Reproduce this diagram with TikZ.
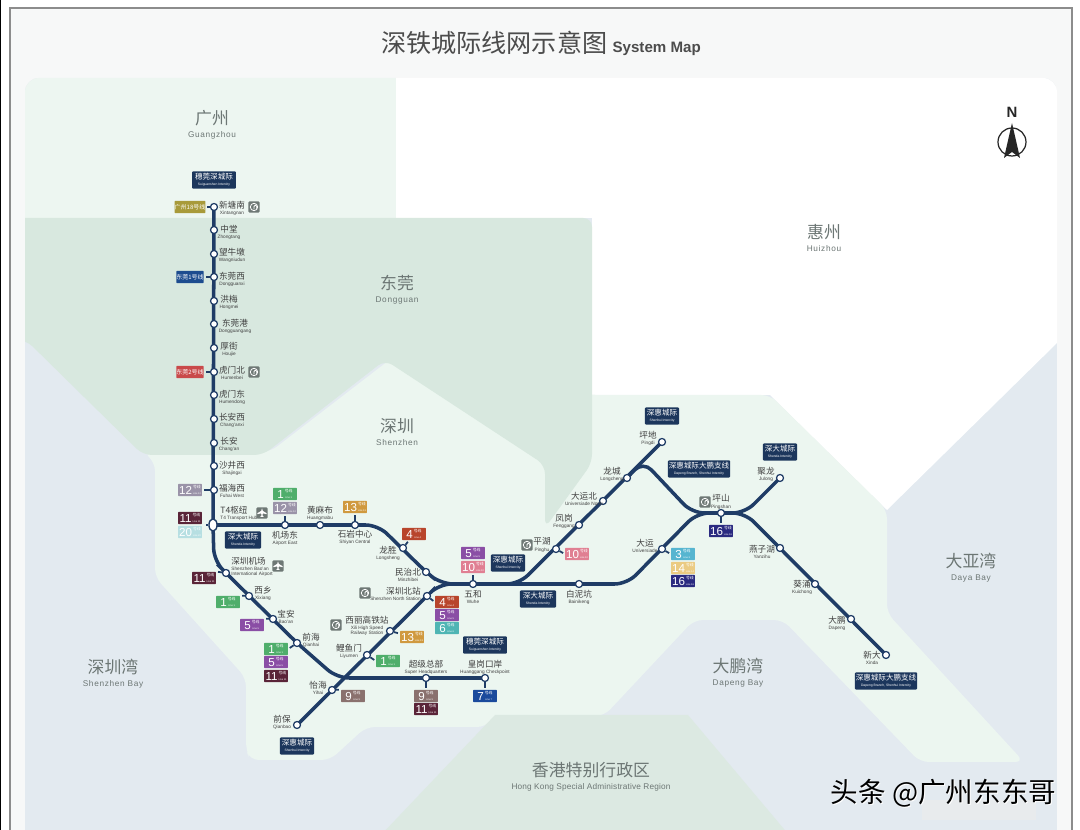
\documentclass[tikz,border=0pt]{standalone}
\usepackage{fontspec}
\setmainfont{Liberation Sans}
\newfontfamily\cjk{Noto Sans CJK SC}
\usetikzlibrary{backgrounds,shapes.geometric}

\definecolor{metro}{HTML}{1F3C66}
\definecolor{seablue}{HTML}{E3EAF0}
\definecolor{landgreen}{HTML}{ECF6F0}
\definecolor{dggreen}{HTML}{D8E8DF}
\definecolor{hkgreen}{HTML}{DCE9E2}
\definecolor{gzgreen}{HTML}{EDF6F1}
\definecolor{paper}{HTML}{F7F8F8}
\definecolor{iconbg}{HTML}{6E7875}
\definecolor{regiontext}{HTML}{6C7674}
\definecolor{lnone}{HTML}{4FAE6B}
\definecolor{lnfour}{HTML}{B8452C}
\definecolor{lnfive}{HTML}{8A4EA5}
\definecolor{lnsix}{HTML}{4FB5B4}
\definecolor{lnseven}{HTML}{1A4A9C}
\definecolor{lnnine}{HTML}{8A716E}
\definecolor{lnten}{HTML}{E07F92}
\definecolor{lneleven}{HTML}{5A2438}
\definecolor{lntwelve}{HTML}{9A93A8}
\definecolor{lnthirteen}{HTML}{D0993F}
\definecolor{lnfourteen}{HTML}{EBCB82}
\definecolor{lnsixteen}{HTML}{2A2A80}
\definecolor{lntwenty}{HTML}{B7DFE2}
\definecolor{lnthree}{HTML}{56B5D0}
\definecolor{lngz}{HTML}{A89A3A}
\definecolor{lndgone}{HTML}{1D4C8F}
\definecolor{lndgtwo}{HTML}{C9494A}

\tikzset{
  stn/.style={circle,draw=metro,fill=white,line width=0.7pt,inner sep=0pt,minimum size=4pt},
  stnhub/.style={ellipse,draw=metro,fill=white,line width=0.8pt,inner sep=0pt,minimum width=4.6pt,minimum height=7pt},
  stntext/.style={inner sep=0pt,align=center,text=black!75,font=\fontsize{2.7}{3.1}\selectfont},
  linetrack/.style={draw=metro,line width=2pt,rounded corners=7pt},
  linestub/.style={draw=metro,line width=1pt,shorten >=1pt},
  linebox/.style={fill=#1,text=white,inner sep=0pt,minimum width=13.6pt,minimum height=6.9pt,rounded corners=0.3pt},
  servbox/.style={fill=metro!90!black,text=white,inner sep=0pt,minimum width=#1,minimum height=9.8pt,rounded corners=0.6pt,align=center,font=\fontsize{1.9}{2.2}\selectfont},
  iconbox/.style={fill=iconbg,inner sep=0pt,minimum size=6.4pt,rounded corners=0.6pt},
  regiontxt/.style={inner sep=0pt,align=center,text=regiontext}
}

% station circle and its two line caption
\newcommand{\station}[5]{%
  \node[stn] (#1) at (#2) {};
  \node[stntext] (#1-lbl) at (#3) {{\cjk\fontsize{4.9}{5.4}\selectfont #4}\\[0.4pt]#5};
}
\newcommand{\linetag}[4]{%
  \node[linebox=#3] (#1) at (#2) {{\fontsize{6.6}{7}\selectfont #4}\hspace{0.5pt}\shortstack{{\cjk\fontsize{2.2}{2.4}\selectfont 号线}\\[-0.4pt]{\fontsize{1.4}{1.6}\selectfont Line #4}}};
}
\newcommand{\servtag}[5]{%
  \node[servbox=#3] (#1) at (#2) {{\cjk\fontsize{4.3}{4.8}\selectfont #4}\\[1.2pt]#5};
}
\newcommand{\railicon}[2]{%
  \node[iconbox] (#1) at (#2) {};
  \draw[white,line width=0.45pt] (#1) circle (2.1pt);
  \draw[white,line width=0.45pt] ([yshift=-1.3pt]#1.center) -- ++(0,1.6pt) arc (180:0:0.8pt) -- ++(0,-1.6pt);
}
\newcommand{\planeicon}[2]{%
  \node[iconbox] (#1) at (#2) {};
  \fill[white,shift={(#1.center)}] (0,2.7pt) -- (0.45pt,1.2pt) -- (2.6pt,-0.1pt) -- (2.6pt,-0.7pt) -- (0.45pt,-0.2pt) -- (0.35pt,-1.5pt) -- (1pt,-2.2pt) -- (-1pt,-2.2pt) -- (-0.35pt,-1.5pt) -- (-0.45pt,-0.2pt) -- (-2.6pt,-0.7pt) -- (-2.6pt,-0.1pt) -- (-0.45pt,1.2pt) -- cycle;
}
\newcommand{\regionname}[5][8]{%
  \node[regiontxt,font=\fontsize{4.7}{5.4}\selectfont\addfontfeature{LetterSpace=#1}] (#2) at (#3) {{\cjk\fontsize{9.6}{11}\selectfont #4}\\[2pt]#5};
}

\begin{document}
\begin{tikzpicture}[x=0.02cm,y=-0.02cm]
  \useasboundingbox (0,0) rectangle (1080,830);

  % the regions
  \begin{scope}[on background layer]
    \fill[white] (0,0) rectangle (1080,830);
    \fill[paper] (10,8) rectangle (1072,830);
    \fill[black] (0,0) rectangle (1,830);
    \draw[black!45,line width=0.7pt] (10,830) -- (10,8) -- (1072,8) -- (1072,830);
    \begin{scope}
      \clip[rounded corners=8pt] (25,78) rectangle (1057,845);
      \fill[seablue] (25,78) rectangle (1057,830);
      % huizhou
      \fill[white] (396,70) -- (1060,70) -- (1060,343) -- (1057,343) -- (887,510) -- (770,395) -- (592,395) -- (592,218) -- (396,218) -- cycle;
      % shenzhen with the peninsula
      \fill[landgreen,rounded corners=5pt] (143,452) -- (270,452) -- (392,358) -- (592,395) -- (770,395) -- (887,510) -- (887,613) -- (1024,762) -- (920,762) -- (783,620) -- (694,620) -- (604,716) -- (495,716) -- (486,727) -- (366,727) -- (330,760) -- (250,760) -- (246,750) -- (246,678) -- (155,577) -- (155,462) -- cycle;
      % guangzhou and dongguan
      \fill[gzgreen] (20,70) rectangle (396,225);
      \fill[dggreen,rounded corners=5pt] (15,218) -- (592,218) -- (592,463) -- (545,528) -- (545,465) -- (385,360) -- (263,455) -- (143,455) -- (26,340) -- (15,340) -- cycle;
      % hong kong
      \fill[hkgreen] (381,835) -- (495,715) -- (688,715) -- (789,835) -- cycle;
    \end{scope}
  \end{scope}

  % the title and the compass
  \node[inner sep=0pt,text=black!70] (title) at (541,43) {{\cjk\fontsize{14.3}{16}\selectfont 深铁城际线网示意图}\hspace{3pt}{\fontsize{8.6}{10}\selectfont\bfseries System Map}};
  \node[inner sep=0pt,text=black!85] (north) at (1012,112) {\fontsize{8.5}{10}\selectfont\bfseries N};
  \draw[black!85,line width=0.7pt] (1012,142) circle (14);
  \fill[black!85] (1012,123) -- (1020,158) -- (1012,152) -- (1004,158) -- cycle;

  \regionname{guangzhou}{212,125}{广州}{Guangzhou}
  \regionname{dongguan}{397,290}{东莞}{Dongguan}
  \regionname{shenzhen}{397,432}{深圳}{Shenzhen}
  \regionname{huizhou}{824,238}{惠州}{Huizhou}
  \regionname{shenzhenbay}{113,674}{深圳湾}{Shenzhen Bay}
  \regionname{dayabay}{971,568}{大亚湾}{Daya Bay}
  \regionname{dapengbay}{738,673}{大鹏湾}{Dapeng Bay}
  \regionname[2]{hongkong}{591,777}{香港特别行政区}{Hong Kong Special Administrative Region}

  % north to south line
  \station{xintangnan}{214,207}{232,208}{新塘南}{Xintangnan}
  \station{zhongtang}{214,230}{229,232}{中堂}{Zhongtang}
  \station{wangniudun}{214,254}{232,255}{望牛墩}{Wangniudun}
  \station{dongguanxi}{214,277}{232,279}{东莞西}{Dongguanxi}
  \station{hongmei}{214,301}{229,302}{洪梅}{Hongmei}
  \station{dongguangang}{214,324}{235,326}{东莞港}{Dongguangang}
  \station{houjie}{214,348}{229,349}{厚街}{Houjie}
  \station{humenbei}{214,372}{232,373}{虎门北}{Humenbei}
  \station{humendong}{214,395}{232,397}{虎门东}{Humendong}
  \station{changanxi}{214,419}{232,420}{长安西}{Chang'anxi}
  \station{changan}{214,443}{229,444}{长安}{Chang'an}
  \station{shajingxi}{214,466}{232,468}{沙井西}{Shajingxi}
  \station{fuhaixi}{214,490}{232,491}{福海西}{Fuhai West}
  \node[stnhub] (tfour) at (213,525) {};
  \node[stntext,align=left,anchor=west] (tfour-lbl) at (220,513) {{\cjk\fontsize{4.9}{5.4}\selectfont T4枢纽}\\[0.4pt]T4 Transport Hub};
  \node[stn] (airport) at (226,573) {};
  \node[stntext,align=left,anchor=west] (airport-lbl) at (231,567) {{\cjk\fontsize{4.9}{5.4}\selectfont 深圳机场}\\[0.4pt]Shenzhen Bao'an\\International Airport};
  \station{xixiang}{249,596}{263,593}{西乡}{Xixiang}
  \station{baoan}{273,619}{286,617}{宝安}{Bao'an}
  \station{qianhai}{297,643}{311,640}{前海}{Qianhai}
  \station{chaoji}{426,678}{426,667}{超级总部}{Super Headquarters}
  \station{huanggang}{485,678}{485,667}{皇岗口岸}{Huanggang Checkpoint}

  % lines to the east
  \station{airporteast}{285,525}{285,538}{机场东}{Airport East}
  \station{huangmabu}{320,525}{320,513}{黄麻布}{Huangmabu}
  \station{shiyan}{355,525}{355,537}{石岩中心}{Shiyan Central}
  \station{longsheng}{403,548}{388,553}{龙胜}{Longsheng}
  \station{minzhibei}{426,572}{408,575}{民治北}{Minzhibei}
  \station{wuhe}{473,584}{473,597}{五和}{Wuhe}
  \station{bainikeng}{579,584}{579,597}{白泥坑}{Bainikeng}
  \station{dayun}{662,549}{645,546}{大运}{Universiade}
  \station{pingshan}{721,513}{721,502}{坪山}{Pingshan}
  \station{julong}{780,478}{766,474}{聚龙}{Julong}
  \station{yanzihu}{780,548}{762,552}{燕子湖}{Yanzihu}
  \station{kuichong}{815,584}{802,587}{葵涌}{Kuichong}
  \station{dapeng}{851,619}{837,623}{大鹏}{Dapeng}
  \station{xinda}{886,655}{872,658}{新大}{Xinda}

  % the other diagonal
  \station{qianbao}{297,725}{282,722}{前保}{Qianbao}
  \station{yihai}{332,690}{318,688}{怡海}{Yihai}
  \station{liyumen}{367,655}{349,651}{鲤鱼门}{Liyumen}
  \node[stn] (xili) at (390,631) {};
  \node[stntext] (xili-lbl) at (367,626) {{\cjk\fontsize{4.9}{5.4}\selectfont 西丽高铁站}\\[0.4pt]Xili High Speed\\Railway Station};
  \node[stn] (shenzhenbei) at (427,596) {};
  \node[stntext,align=right,anchor=east] (shenzhenbei-lbl) at (421,594) {{\cjk\fontsize{4.9}{5.4}\selectfont 深圳北站}\\[0.4pt]Shenzhen North Station};
  \station{pinghu}{556,549}{542,545}{平湖}{Pinghu}
  \station{fenggang}{579,525}{564,521}{凤岗}{Fenggang}
  \station{dayunbei}{603,501}{584,499}{大运北}{Universiade North}
  \station{longcheng}{627,478}{612,474}{龙城}{Longcheng}
  \station{pingdi}{662,442}{648,438}{坪地}{Pingdi}

  % hidden bends
  \coordinate (bendairport) at (214,561);
  \coordinate (bendhq) at (337,678);
  \coordinate (bendshiyan) at (378,525);
  \coordinate (bendmz) at (441,584);
  \coordinate (bendbei) at (439,584);
  \coordinate (bendsplit) at (519,584);
  \coordinate (bendbn) at (627,584);
  \coordinate (bendfork) at (643,461);
  \coordinate (bendnorth) at (692,513);
  \coordinate (bendps) at (697,513);
  \coordinate (bendjl) at (745,513);
  \coordinate (tfourstub) at (204,525);

  % the icons
  \railicon{railxt}{254,207}
  \railicon{railhm}{254,372}
  \railicon{railsz}{365,593}
  \railicon{railxl}{336,625}
  \railicon{railph}{527,545}
  \railicon{railps}{705,502}
  \planeicon{planetf}{262,513}
  \planeicon{planeap}{278,566}

  % the line numbers
  \node[linebox=lngz] (tagxt) at (190,207) {{\cjk\fontsize{3.4}{4}\selectfont 广州18号线}};
  \node[linebox=lndgone] (tagdg) at (190,277) {{\cjk\fontsize{3.4}{4}\selectfont 东莞1号线}};
  \node[linebox=lndgtwo] (taghm) at (190,372) {{\cjk\fontsize{3.4}{4}\selectfont 东莞2号线}};
  \linetag{tagfh}{190,490}{lntwelve}{12}
  \linetag{tagtfa}{190,518}{lneleven}{11}
  \linetag{tagtfb}{190,532}{lntwenty}{20}
  \linetag{tagaea}{285,494}{lnone}{1}
  \linetag{tagaeb}{285,508}{lntwelve}{12}
  \linetag{tagsy}{355,507}{lnthirteen}{13}
  \linetag{tagls}{414,534}{lnfour}{4}
  \linetag{tagwha}{473,553}{lnfive}{5}
  \linetag{tagwhb}{473,567}{lnten}{10}
  \linetag{tagsba}{447,602}{lnfour}{4}
  \linetag{tagsbb}{447,615}{lnfive}{5}
  \linetag{tagsbc}{447,628}{lnsix}{6}
  \linetag{tagxl}{412,637}{lnthirteen}{13}
  \linetag{tagly}{388,661}{lnone}{1}
  \linetag{tagyh}{353,696}{lnnine}{9}
  \linetag{tagcja}{426,696}{lnnine}{9}
  \linetag{tagcjb}{426,709}{lneleven}{11}
  \linetag{taghg}{485,696}{lnseven}{7}
  \linetag{tagqha}{276,649}{lnone}{1}
  \linetag{tagqhb}{276,662}{lnfive}{5}
  \linetag{tagqhc}{276,676}{lneleven}{11}
  \linetag{tagap}{204,578}{lneleven}{11}
  \linetag{tagxx}{228,602}{lnone}{1}
  \linetag{tagba}{252,625}{lnfive}{5}
  \linetag{tagph}{577,554}{lnten}{10}
  \linetag{tagdya}{683,554}{lnthree}{3}
  \linetag{tagdyb}{683,568}{lnfourteen}{14}
  \linetag{tagdyc}{683,581}{lnsixteen}{16}
  \linetag{tagps}{721,531}{lnsixteen}{16}

  % the line names
  \servtag{servsg}{214,180}{25pt}{穗莞深城际}{Suiguanshen Intercity}
  \servtag{servsda}{243,540}{20.5pt}{深大城际}{Shenda Intercity}
  \servtag{servsgb}{485,645}{25pt}{穗莞深城际}{Suiguanshen Intercity}
  \servtag{servsha}{508,563}{19.5pt}{深惠城际}{Shenhui Intercity}
  \servtag{servsdb}{538,599}{20.5pt}{深大城际}{Shenda Intercity}
  \servtag{servshb}{662,416}{19.5pt}{深惠城际}{Shenhui Intercity}
  \servtag{servdpa}{699,469}{35.5pt}{深惠城际大鹏支线}{Dapeng Branch, Shenhui Intercity}
  \servtag{servsdc}{780,452}{19.5pt}{深大城际}{Shenda Intercity}
  \servtag{servdpb}{886,681}{35.5pt}{深惠城际大鹏支线}{Dapeng Branch, Shenhui Intercity}
  \servtag{servshc}{297,746}{19.5pt}{深惠城际}{Shenhui Intercity}

  % tracks and the short ticks, under the stations
  \begin{scope}[on background layer]
    \draw[linetrack] (xintangnan.center) -- (tfour.center) -- (bendairport) -- (airport.center) -- (qianhai.center) -- (bendhq) -- (huanggang.center);
    \draw[linetrack] (tfour.center) -- (bendshiyan) -- (minzhibei.center) -- (bendmz) -- (bendbn) -- (bendps) -- (bendjl) -- (julong.center);
    \draw[linetrack] (qianbao.center) -- (shenzhenbei.center) -- (bendbei) -- (bendsplit) -- (pingdi.center);
    \draw[linetrack] (longcheng.center) -- (bendfork) -- (bendnorth) -- (bendjl) -- (xinda.center);

    \draw[linestub] (xintangnan) -- (tagxt);
    \draw[linestub] (dongguanxi) -- (tagdg);
    \draw[linestub] (humenbei) -- (taghm);
    \draw[linestub] (fuhaixi) -- (tagfh);
    \draw[linestub] (tfour) -- (tfourstub);
    \draw[linestub] (airporteast) -- (tagaeb);
    \draw[linestub] (shiyan) -- (tagsy);
    \draw[linestub] (longsheng) -- (tagls);
    \draw[linestub] (wuhe) -- (tagwhb);
    \draw[linestub] (shenzhenbei) -- (tagsba.west);
    \draw[linestub] (xili) -- (tagxl);
    \draw[linestub] (liyumen) -- (tagly.west);
    \draw[linestub] (yihai) -- (tagyh.north west);
    \draw[linestub] (chaoji) -- (tagcja);
    \draw[linestub] (huanggang) -- (taghg);
    \draw[linestub] (qianhai) -- (tagqha.east);
    \draw[linestub] (airport) -- (tagap.north east);
    \draw[linestub] (xixiang) -- (tagxx.north east);
    \draw[linestub] (baoan) -- (tagba.north east);
    \draw[linestub] (pinghu) -- (tagph.west);
    \draw[linestub] (dayun) -- (tagdya.west);
    \draw[linestub] (pingshan) -- (tagps);
  \end{scope}

  % the mark over the corner
  \fill[pink!35!black!10,opacity=0.5] (922,800) rectangle (1036,820);
  \node[inner sep=0pt,text=white] at (944.5,794.5) {{\cjk\fontsize{15.7}{17}\selectfont 头条 @广州东东哥}};
  \node[inner sep=0pt,text=black] (mark) at (943.5,793) {{\cjk\fontsize{15.7}{17}\selectfont 头条 @广州东东哥}};
\end{tikzpicture}
\end{document}
